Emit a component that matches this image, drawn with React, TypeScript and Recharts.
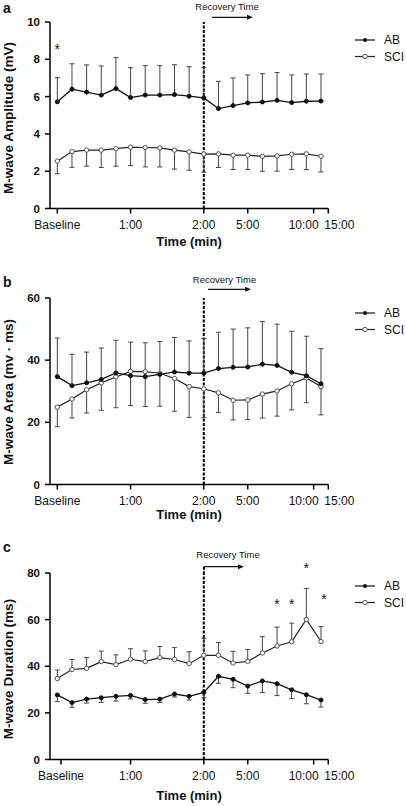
import React from 'react';
import { LineChart, Line, XAxis, YAxis, ErrorBar, ReferenceLine, ReferenceDot } from 'recharts';

const FONT = '"Liberation Sans", Arial, Helvetica, sans-serif';

// time points: baseline, 6-s samples to 2:00, then recovery samples
const timeIdx = [0, 1, 2, 3, 4, 5, 6, 7, 8, 9, 10, 11, 12, 13, 14, 15, 16, 17, 18];
const xTickLabels = ['Baseline', '1:00', '2:00', '5:00', '10:00', '15:00'];
const xTicksAB = [0, 5, 10, 13, 17.5, 18.5];
const xTicksC = [0.25, 5, 10, 13, 17.5, 18.5];

// a: M-wave amplitude (mV)
const abAmp = [5.72, 6.4, 6.24, 6.08, 6.43, 5.95, 6.08, 6.08, 6.11, 6.02, 5.93, 5.36, 5.52, 5.66, 5.71, 5.8, 5.68, 5.75, 5.76];
const abAmpSd = [1.29, 1.36, 1.46, 1.56, 1.66, 1.6, 1.58, 1.58, 1.6, 1.58, 1.64, 1.46, 1.48, 1.5, 1.52, 1.49, 1.48, 1.46, 1.45];
const sciAmp = [2.54, 3.05, 3.13, 3.13, 3.21, 3.29, 3.27, 3.25, 3.13, 3.04, 2.92, 2.93, 2.86, 2.86, 2.8, 2.82, 2.91, 2.93, 2.8];
const sciAmpSd = [0.68, 0.84, 0.86, 0.93, 0.94, 0.99, 1.04, 1.02, 1.02, 0.99, 0.97, 0.73, 0.77, 0.77, 0.8, 0.82, 0.82, 0.84, 0.84];
const ampTicks = [0, 2, 4, 6, 8, 10];
const ampStarX = [0];
const ampStarY = [8.7];

// b: M-wave area (mV·ms)
const abArea = [34.7, 31.8, 32.7, 33.8, 35.9, 35.0, 34.7, 35.4, 36.2, 35.8, 35.8, 37.3, 37.7, 37.8, 38.7, 38.3, 36.1, 35.0, 32.4];
const abAreaSd = [12.4, 10.1, 9.9, 10.1, 10.5, 10.8, 10.9, 10.6, 11.1, 10.4, 11.2, 11.7, 12.3, 12.6, 13.7, 13.3, 13.2, 12.7, 11.3];
const sciArea = [24.9, 27.5, 30.5, 32.7, 34.6, 36.4, 36.3, 35.8, 34.1, 31.5, 30.8, 29.5, 27.1, 27.2, 29.1, 30.1, 32.4, 34.3, 31.5];
const sciAreaSd = [6.3, 6.1, 7.5, 8.8, 9.9, 11.0, 11.2, 10.6, 10.5, 9.9, 9.3, 6.3, 6.3, 6.3, 7.7, 8.1, 8.4, 8.0, 9.1];
const areaTicks = [0, 20, 40, 60];

// c: M-wave duration (ms)
const abDur = [27.7, 24.4, 25.9, 26.5, 27.1, 27.5, 25.7, 25.9, 28.1, 27.1, 28.8, 35.7, 34.4, 31.5, 33.7, 32.5, 29.9, 27.8, 25.5];
const abDurSd = [2.9, 2.0, 1.7, 2.0, 2.0, 1.5, 1.6, 1.5, 1.3, 1.6, 2.3, 3.0, 3.6, 3.1, 5.0, 5.1, 3.8, 3.9, 3.0];
const sciDur = [34.7, 38.6, 39.1, 42.0, 40.7, 43.0, 42.0, 43.7, 42.9, 41.1, 44.7, 44.7, 41.4, 42.1, 45.7, 48.7, 50.5, 60.1, 50.6];
const sciDurSd = [3.7, 4.3, 4.6, 4.5, 4.2, 4.5, 4.6, 4.8, 5.1, 5.1, 7.3, 5.5, 5.0, 5.1, 7.0, 8.1, 8.0, 13.3, 6.4];
const durTicks = [0, 20, 40, 60, 80];
const durStarX = [15, 16, 17, 18.2];
const durStarY = [67.8, 67.8, 83.6, 70.2];

const buildRows = (ab: number[], abSd: number[], abUp: boolean, sci: number[], sciSd: number[], sciUp: boolean) =>
  timeIdx.map((t, i) => ({
    t,
    ab: ab[i],
    abErr: abUp ? [0, abSd[i]] : [abSd[i], 0],
    sci: sci[i],
    sciErr: sciUp ? [0, sciSd[i]] : [sciSd[i], 0],
  }));

const makeXTick = (labels: string[]) => (props: any) => {
  const { x, y, index } = props;
  const nudge = index === 4 ? -10 : index === 5 ? 11 : 0;
  return (
    <text x={x + nudge} y={y + 13} textAnchor="middle" fontSize={12} fontFamily={FONT} fill="#111">
      {labels[index]}
    </text>
  );
};

const YTick = (props: any) => {
  const { x, y, payload } = props;
  return (
    <text x={x - 3} y={y + 4} textAnchor="end" fontSize={11.5} fontWeight="bold" fontFamily={FONT} fill="#111">
      {payload.value}
    </text>
  );
};

const Star = (props: any) => (
  <text x={props.cx} y={props.cy + 8} textAnchor="middle" fontSize={14} fontFamily={FONT} fill="#111">*</text>
);

type PanelProps = {
  top: number;
  rows: any[];
  yTicks: number[];
  xTicks: number[];
  starX?: number[];
  starY?: number[];
};

const Panel = ({ top, rows, yTicks, xTicks, starX = [], starY = [] }: PanelProps) => (
  <div style={{ position: 'absolute', left: 0, top }}>
    <LineChart width={406} height={260} data={rows} margin={{ top: 22, right: 77.7, bottom: 21.5, left: 0 }}>
      <XAxis
        type="number"
        dataKey="t"
        domain={[-0.5, 18.5]}
        ticks={xTicks}
        interval={0}
        tick={makeXTick(xTickLabels)}
        tickSize={5}
        height={30}
        axisLine={{ stroke: '#000', strokeWidth: 1.5 }}
        tickLine={{ stroke: '#000', strokeWidth: 1.5 }}
      />
      <YAxis
        type="number"
        domain={[yTicks[0], yTicks[yTicks.length - 1]]}
        ticks={yTicks}
        interval={0}
        tick={<YTick />}
        tickSize={5}
        width={50}
        axisLine={{ stroke: '#000', strokeWidth: 1.5 }}
        tickLine={{ stroke: '#000', strokeWidth: 1.5 }}
      />
      <ReferenceLine x={10} stroke="#000" strokeWidth={2} strokeDasharray="3 1.5" />
      <Line
        type="linear"
        dataKey="sci"
        stroke="#222"
        strokeWidth={1.2}
        dot={{ r: 2.2, fill: '#fff', stroke: '#555', strokeWidth: 1 }}
        isAnimationActive={false}
      >
        <ErrorBar dataKey="sciErr" direction="y" width={2.5} stroke="#444" strokeWidth={1} isAnimationActive={false} />
      </Line>
      <Line
        type="linear"
        dataKey="ab"
        stroke="#111"
        strokeWidth={1.3}
        dot={{ r: 2, fill: '#111', stroke: '#111', strokeWidth: 1 }}
        isAnimationActive={false}
      >
        <ErrorBar dataKey="abErr" direction="y" width={2.5} stroke="#444" strokeWidth={1} isAnimationActive={false} />
      </Line>
      {starX.map((sx, i) => (
        <ReferenceDot key={i} x={sx} y={starY[i]} r={0} ifOverflow="visible" shape={Star} />
      ))}
    </LineChart>
  </div>
);

type Deco = {
  letter: string;
  letterY: number;
  yTitle: string;
  yTitleY: number;
  xTitleY: number;
  recX: number;
  recY: number;
  arrowX1: number;
  arrowX2: number;
  arrowY: number;
  legendY: number;
};

const Decorations = ({ d }: { d: Deco }) => (
  <g fontFamily={FONT} fill="#111">
    <text x={3} y={d.letterY} fontSize={14} fontWeight="bold">{d.letter}</text>
    <text x={13} y={d.yTitleY} fontSize={13.5} fontWeight="bold" textAnchor="middle" transform={`rotate(-90 13 ${d.yTitleY})`}>
      {d.yTitle}
    </text>
    <text x={189} y={d.xTitleY} fontSize={13} fontWeight="bold" textAnchor="middle">Time (min)</text>
    <text x={d.recX} y={d.recY} fontSize={9.5} textAnchor="middle">Recovery Time</text>
    <line x1={d.arrowX1} y1={d.arrowY} x2={d.arrowX2 - 4} y2={d.arrowY} stroke="#111" strokeWidth={1.3} />
    <polygon points={`${d.arrowX2},${d.arrowY} ${d.arrowX2 - 6},${d.arrowY - 2.5} ${d.arrowX2 - 6},${d.arrowY + 2.5}`} fill="#111" />
    <line x1={355} y1={d.legendY} x2={375} y2={d.legendY} stroke="#111" strokeWidth={1.2} />
    <circle cx={365} cy={d.legendY} r={2} fill="#111" />
    <text x={384} y={d.legendY + 4.3} fontSize={12}>AB</text>
    <line x1={355} y1={d.legendY + 16.5} x2={375} y2={d.legendY + 16.5} stroke="#222" strokeWidth={1.2} />
    <circle cx={365} cy={d.legendY + 16.5} r={2.2} fill="#fff" stroke="#555" strokeWidth={1} />
    <text x={384} y={d.legendY + 20.8} fontSize={12}>SCI</text>
  </g>
);

const decoA: Deco = { letter: 'a', letterY: 13, yTitle: 'M-wave Amplitude (mV)', yTitleY: 118, xTitleY: 246, recX: 227, recY: 10, arrowX1: 212, arrowX2: 253, arrowY: 17.3, legendY: 40 };
const decoB: Deco = { letter: 'b', letterY: 287, yTitle: 'M-wave Area (mv · ms)', yTitleY: 392, xTitleY: 519, recX: 224.5, recY: 283, arrowX1: 208, arrowX2: 251, arrowY: 289.3, legendY: 313 };
const decoC: Deco = { letter: 'c', letterY: 552, yTitle: 'M-wave Duration (ms)', yTitleY: 669, xTitleY: 800, recX: 228, recY: 558, arrowX1: 204, arrowX2: 244, arrowY: 566.7, legendY: 586 };

export default function App() {
  const rowsA = buildRows(abAmp, abAmpSd, true, sciAmp, sciAmpSd, false);
  const rowsB = buildRows(abArea, abAreaSd, true, sciArea, sciAreaSd, false);
  const rowsC = buildRows(abDur, abDurSd, false, sciDur, sciDurSd, true);

  return (
    <div style={{ position: 'absolute', left: 0, top: 0, width: 406, height: 806, background: '#fff', overflow: 'hidden' }}>
      <Panel top={0} rows={rowsA} yTicks={ampTicks} xTicks={xTicksAB} starX={ampStarX} starY={ampStarY} />
      <Panel top={275.5} rows={rowsB} yTicks={areaTicks} xTicks={xTicksAB} />
      <Panel top={550.5} rows={rowsC} yTicks={durTicks} xTicks={xTicksC} starX={durStarX} starY={durStarY} />
      <svg width={406} height={806} style={{ position: 'absolute', left: 0, top: 0, pointerEvents: 'none' }}>
        <Decorations d={decoA} />
        <Decorations d={decoB} />
        <Decorations d={decoC} />
        <line x1={204} y1={566.7} x2={204} y2={573} stroke="#000" strokeWidth={2} strokeDasharray="3 1.5" />
      </svg>
    </div>
  );
}
